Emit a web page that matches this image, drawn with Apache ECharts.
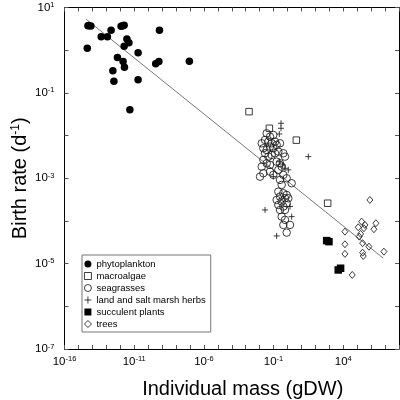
<!DOCTYPE html>
<html><head><meta charset="utf-8">
<script src="https://cdn.jsdelivr.net/npm/echarts@6/dist/echarts.min.js"></script>
<style>html,body{margin:0;padding:0;background:#fff}#c{width:400px;height:400px}</style>
</head><body><div id="c"></div>
<script>
// ---- data ([mass gDW, birth rate d^-1]) ----
const seriesNames = ['phytoplankton','macroalgae','seagrasses','land and salt marsh herbs','succulent plants','trees'];

const phytoplankton = [
  [4.8e-15,3.75],[5.5e-15,3.8],[7.8e-15,3.69],[4.3e-15,1.11],[4.3e-14,2.07],[1.2e-13,2.07],
  [2.2e-13,2.92],[1.15e-12,3.63],[1.4e-12,3.7],[1.9e-12,3.83],[3.0e-12,1.83],[4.2e-12,1.50],
  [1.9e-12,1.23],[1.9e-11,0.87],[6.3e-13,0.67],[1.6e-12,0.54],[2.0e-12,0.40],[2.95e-13,0.33],
  [3.5e-13,0.187],[1.9e-11,0.204],[4.9e-12,0.040],[3.5e-10,0.48],[5.9e-10,0.54],[6.5e-10,2.92],
  [9.1e-8,0.55]
];
const macroalgae = [[1.74e-3,0.0363],[0.050,0.0148],[4.3,0.0078],[760,2.6e-4]];
const seagrasses = [
  [0.0321,0.0113],[0.0556,0.00944],[0.096,0.0103],[0.0244,0.00789],[0.0423,0.00721],[0.073,0.00659],
  [0.127,0.00721],[0.0141,0.00659],[0.0185,0.00504],[0.0321,0.0046],[0.0556,0.00551],[0.096,0.00504],
  [0.167,0.00603],[0.29,0.00659],[0.0244,0.00385],[0.0423,0.00321],[0.073,0.00352],[0.127,0.00385],
  [0.22,0.00421],[0.502,0.00385],[0.661,0.00321],[0.0185,0.00269],[0.0321,0.00224],[0.0556,0.00205],
  [0.167,0.00245],[0.29,0.00224],[0.382,0.00187],[0.22,0.00157],[0.0141,0.00187],[0.0185,0.00131],
  [0.0107,0.00109],[0.0556,0.00143],[0.096,0.0012],[0.502,0.0012],[0.871,0.001],[0.29,0.000914],
  [1.99,0.000764],[0.382,0.000698],[0.22,0.000486],[0.502,0.000445],[0.871,0.000406],[0.29,0.000372],
  [0.661,0.00034],[0.167,0.00031],[0.382,0.000284],[1.146,0.00034],[0.22,0.000237],[0.502,0.000217],
  [0.661,0.000181],[0.382,0.000126],[0.661,0.000106],[0.502,0.0000807],[1.51,0.0000807],[0.871,0.0000533],
  [0.29,0.000181],[0.871,0.000259]
];
const herbs = [
  [0.342,0.0194],[0.342,0.0148],[0.259,0.0109],[31.1,0.00321],[0.259,0.00245],[0.45,0.00205],
  [0.661,0.00171],[0.096,0.00109],[1.146,0.00157],[1.51,0.000217],[1.99,0.000126],[0.0244,0.000181],
  [0.167,0.0000446]
];
const succulents = [[646,3.46e-5],[944,3.27e-5],[4370,7.11e-6],[6460,7.8e-6]];
const trees = [
  [8.13e5,3.10e-4],[2.09e5,9.64e-5],[3.6e5,8.05e-5],[2.21e6,8.83e-5],[1.19e5,7.11e-5],[1.58e6,6.4e-5],
  [1.32e4,5.61e-5],[3.05e5,6.75e-5],[1.77e5,4.97e-5],[1.40e5,4.29e-5],[2.46e5,3.01e-5],[6.95e5,2.5e-5],
  [1.32e4,2.84e-5],[8.28e6,1.91e-5],[1.32e4,1.69e-5],[2.46e5,1.81e-5],[2.72e5,1.51e-5],[4.42e4,5.43e-6]
];
const fitLine = [[3.6e-15,5.3],[7.4e6,1.34e-5]];

const xRange = [1e-16, 1e8];
const yRange = [1e-7, 1e1];
const xLabelExps = [-16,-11,-6,-1,4];
const yLabelExps = [1,-1,-3,-5,-7];

// ---- chart ----
const FONT = '"Liberation Sans", Arial, Helvetica, sans-serif';
const plusPath = 'path://M5,0L5,10M0,5L10,5';
const richLbl = {
  b:{fontSize:11.5, lineHeight:13, fontFamily:FONT, color:'#000'},
  s:{fontSize:7.5, lineHeight:7, verticalAlign:'top', fontFamily:FONT, color:'#000'}
};
function expOf(v){ return Math.round(Math.log10(v)); }
function fmt(list){ return function(v){ const e = expOf(v); return list.indexOf(e) >= 0 ? '{b|10}{s|' + e + '}' : ''; }; }

function axis(range, labels, position, extra){
  return Object.assign({
    type:'log', logBase:10, min:range[0], max:range[1], interval:1, position:position,
    axisLine:{show:true, onZero:false, lineStyle:{color:'#000', width:1}},
    axisTick:{show:true, inside:true, length:4, lineStyle:{color:'#555', width:1}},
    minorTick:{show:false},
    splitLine:{show:false},
    axisLabel: labels ? {show:true, formatter:fmt(labels), rich:richLbl, showMinLabel:true, showMaxLabel:true}
                      : {show:false}
  }, extra || {});
}

const transparent = 'rgba(0,0,0,0)';
const outline = {color:transparent, borderColor:'#1a1a1a', borderWidth:0.85, opacity:1};
const solid = {color:'#000', borderWidth:0, opacity:1};

const chart = echarts.init(document.getElementById('c'), null, {renderer:'canvas'});
chart.setOption({
  animation:false,
  backgroundColor:'#fff',
  textStyle:{fontFamily:FONT},
  grid:{left:64.5, right:1, top:7.5, bottom:51, containLabel:false, outerBoundsMode:'none'},
  xAxis:[
    axis(xRange, xLabelExps, 'bottom', {
      name:'Individual mass (gDW)', nameLocation:'middle', nameGap:30, nameMoveOverlap:false,
      nameTextStyle:{fontSize:20, fontFamily:FONT, color:'#000', padding:[0,0,0,22]},
      axisLabel:{show:true, formatter:fmt(xLabelExps), rich:richLbl, margin:6, showMinLabel:true, showMaxLabel:true}
    }),
    axis(xRange, null, 'top')
  ],
  yAxis:[
    axis(yRange, yLabelExps, 'left', {
      name:'{n|Birth rate (d}{s|-1}{n|)}', nameLocation:'middle', nameGap:33, nameRotate:90, nameMoveOverlap:false,
      nameTextStyle:{fontFamily:FONT, color:'#000', rich:{
        n:{fontSize:20, lineHeight:22, fontFamily:FONT, color:'#000'},
        s:{fontSize:12, lineHeight:12, verticalAlign:'top', fontFamily:FONT, color:'#000'}
      }},
      axisLabel:{show:true, formatter:fmt(yLabelExps), rich:richLbl, margin:10, showMinLabel:true, showMaxLabel:true}
    }),
    axis(yRange, null, 'right')
  ],
  legend:{
    orient:'vertical', left:82, top:255,
    padding:[3,5,2,2], itemGap:0, itemWidth:7, itemHeight:7,
    borderColor:'#777', borderWidth:1, backgroundColor:'#fff',
    textStyle:{fontSize:9.5, lineHeight:12, fontFamily:FONT, color:'#000'},
    selectedMode:false,
    data:[
      {name:seriesNames[0], icon:'circle', itemStyle:solid},
      {name:seriesNames[1], icon:'rect', itemStyle:outline},
      {name:seriesNames[2], icon:'circle', itemStyle:outline},
      {name:seriesNames[3], icon:plusPath, itemStyle:outline},
      {name:seriesNames[4], icon:'rect', itemStyle:solid},
      {name:seriesNames[5], icon:'diamond', itemStyle:outline}
    ]
  },
  series:[
    {name:'fit', type:'line', data:fitLine, showSymbol:false, silent:true,
     lineStyle:{color:'#555', width:0.8}, z:1},
    {name:seriesNames[2], type:'scatter', data:seagrasses, symbol:'circle', symbolSize:7.5, itemStyle:outline, z:2},
    {name:seriesNames[3], type:'scatter', data:herbs, symbol:plusPath, symbolSize:6, itemStyle:outline, z:2},
    {name:seriesNames[1], type:'scatter', data:macroalgae, symbol:'rect', symbolSize:6.5, itemStyle:outline, z:2},
    {name:seriesNames[5], type:'scatter', data:trees, symbol:'diamond', symbolSize:[6,7], itemStyle:outline, z:2},
    {name:seriesNames[4], type:'scatter', data:succulents, symbol:'rect', symbolSize:7.5, itemStyle:solid, z:3},
    {name:seriesNames[0], type:'scatter', data:phytoplankton, symbol:'circle', symbolSize:7.5, itemStyle:solid, z:3}
  ]
});
</script>
</body></html>
